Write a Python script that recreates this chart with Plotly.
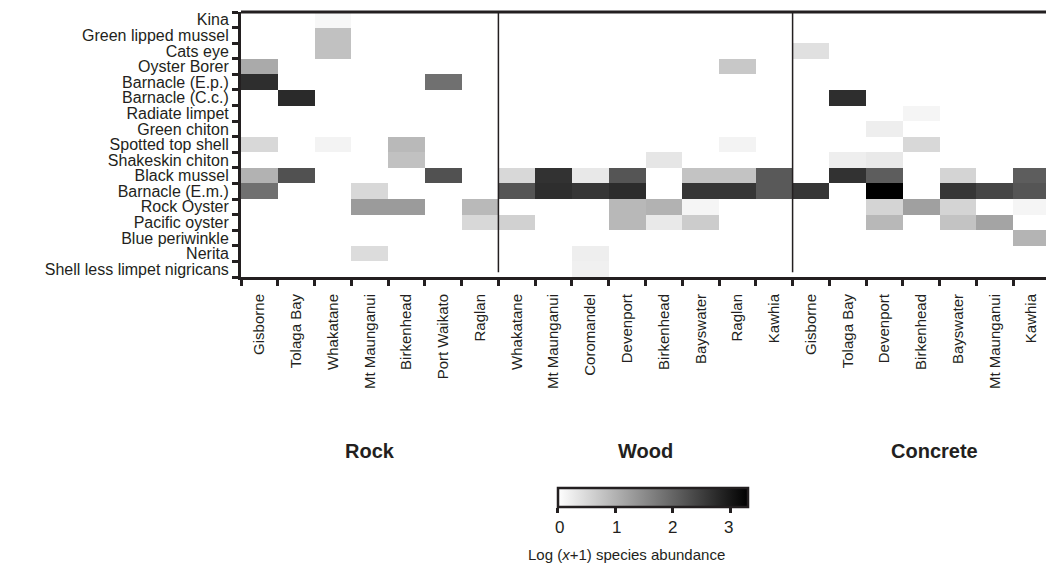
import plotly.graph_objects as go

species = ["Kina", "Green lipped mussel", "Cats eye", "Oyster Borer", "Barnacle (E.p.)",
           "Barnacle (C.c.)", "Radiate limpet", "Green chiton", "Spotted top shell",
           "Shakeskin chiton", "Black mussel", "Barnacle (E.m.)", "Rock Oyster",
           "Pacific oyster", "Blue periwinkle", "Nerita", "Shell less limpet nigricans"]

rock_sites = ["Gisborne", "Tolaga Bay", "Whakatane", "Mt Maunganui", "Birkenhead", "Port Waikato", "Raglan"]
wood_sites = ["Whakatane", "Mt Maunganui", "Coromandel", "Devenport", "Birkenhead", "Bayswater", "Raglan", "Kawhia"]
concrete_sites = ["Gisborne", "Tolaga Bay", "Devenport", "Birkenhead", "Bayswater", "Mt Maunganui", "Kawhia"]

groups = ["Rock", "Wood", "Concrete"]

# rows = species (top to bottom), columns = sites; Log(x+1) abundance
rock_values = [
    [0, 0, 0.1, 0, 0, 0, 0],
    [0, 0, 0.8, 0, 0, 0, 0],
    [0, 0, 0.8, 0, 0, 0, 0],
    [1.1, 0, 0, 0, 0, 0, 0],
    [2.7, 0, 0, 0, 0, 1.85, 0],
    [0, 2.75, 0, 0, 0, 0, 0],
    [0, 0, 0, 0, 0, 0, 0],
    [0, 0, 0, 0, 0, 0, 0],
    [0.5, 0, 0.15, 0, 0.9, 0, 0],
    [0, 0, 0, 0, 0.8, 0, 0],
    [1.0, 2.25, 0, 0, 0, 2.25, 0],
    [1.85, 0, 0, 0.5, 0, 0, 0],
    [0, 0, 0, 1.3, 1.3, 0, 0.9],
    [0, 0, 0, 0, 0, 0, 0.5],
    [0, 0, 0, 0, 0, 0, 0],
    [0, 0, 0, 0.45, 0, 0, 0],
    [0, 0, 0, 0, 0, 0, 0],
]

wood_values = [
    [0, 0, 0, 0, 0, 0, 0, 0],
    [0, 0, 0, 0, 0, 0, 0, 0],
    [0, 0, 0, 0, 0, 0, 0, 0],
    [0, 0, 0, 0, 0, 0, 0.71, 0],
    [0, 0, 0, 0, 0, 0, 0, 0],
    [0, 0, 0, 0, 0, 0, 0, 0],
    [0, 0, 0, 0, 0, 0, 0, 0],
    [0, 0, 0, 0, 0, 0, 0, 0],
    [0, 0, 0, 0, 0, 0, 0.15, 0],
    [0, 0, 0, 0, 0.33, 0, 0, 0],
    [0.5, 2.65, 0.3, 2.2, 0, 0.77, 0.77, 2.15],
    [2.2, 2.7, 2.6, 2.73, 0, 2.6, 2.6, 2.15],
    [0, 0, 0, 0.92, 1.0, 0.13, 0, 0],
    [0.6, 0, 0, 0.92, 0.28, 0.66, 0, 0],
    [0, 0, 0, 0, 0, 0, 0, 0],
    [0, 0, 0.22, 0, 0, 0, 0, 0],
    [0, 0, 0.2, 0, 0, 0, 0, 0],
]

concrete_values = [
    [0, 0, 0, 0, 0, 0, 0],
    [0, 0, 0, 0, 0, 0, 0],
    [0.4, 0, 0, 0, 0, 0, 0],
    [0, 0, 0, 0, 0, 0, 0],
    [0, 0, 0, 0, 0, 0, 0],
    [0, 2.7, 0, 0, 0, 0, 0],
    [0, 0, 0, 0.13, 0, 0, 0],
    [0, 0, 0.22, 0, 0, 0, 0],
    [0, 0, 0, 0.5, 0, 0, 0],
    [0, 0.22, 0.28, 0, 0, 0, 0],
    [0, 2.65, 2.1, 0, 0.55, 0, 2.1],
    [2.6, 0, 3.3, 0, 2.6, 2.4, 2.2],
    [0, 0, 0.55, 1.23, 0.55, 0, 0.13],
    [0, 0, 0.92, 0, 0.77, 1.18, 0],
    [0, 0, 0, 0, 0, 0, 0.97],
    [0, 0, 0, 0, 0, 0, 0],
    [0, 0, 0, 0, 0, 0, 0],
]

colorbar_ticks = [0, 1, 2, 3]
z_max = 3.3

sites = rock_sites + wood_sites + concrete_sites
z = [r + w + c for r, w, c in zip(rock_values, wood_values, concrete_values)]
nx, ny = len(sites), len(species)

FONT = "Liberation Sans, Arial, sans-serif"
INK = "#231f20"

# geometry (page body has an 8px default margin)
W, H = 1046, 565
ML, MR, MT, MB = 233, 4, 4, 296
plot_w = W - ML - MR
plot_h = H - MT - MB
cb_x, cb_len, cb_y = 0.509, 190, -0.796

fig = go.Figure(go.Heatmap(
    z=z, x=list(range(nx)), y=list(range(ny)),
    zmin=0, zmax=z_max,
    colorscale=[[0, "#ffffff"], [1, "#000000"]],
    colorbar=dict(
        orientation="h", x=cb_x, xanchor="center", y=cb_y, yanchor="top",
        len=cb_len, lenmode="pixels", thickness=19, xpad=0, ypad=0,
        outlinewidth=2.5, outlinecolor=INK,
        tickvals=colorbar_ticks, ticks="outside", ticklen=5, tickwidth=3, tickcolor=INK,
        showticklabels=False,
    ),
))

# colorbar tick labels placed a little lower than plotly's default
for v in colorbar_ticks:
    xp = cb_x + (v / z_max - 0.5) * (cb_len - 4) / plot_w
    fig.add_annotation(text=str(v), x=xp, xref="paper", y=-0.947, yref="paper",
                       xanchor="center", yanchor="middle", showarrow=False,
                       font=dict(family=FONT, size=17, color=INK))

n_rock, n_wood = len(rock_sites), len(wood_sites)
for xb in [n_rock - 0.5, n_rock + n_wood - 0.5]:
    fig.add_shape(type="line", xref="x", yref="y", x0=xb, x1=xb, y0=-0.5, y1=16.2,
                  line=dict(color=INK, width=1.5))
# top and right frame
fig.add_shape(type="line", xref="paper", yref="paper", x0=0, x1=1, y0=1, y1=1,
              line=dict(color=INK, width=3))
fig.add_shape(type="line", xref="paper", yref="paper", x0=1, x1=1, y0=0, y1=1,
              line=dict(color=INK, width=1.5))

group_x = [(n_rock - 1) / 2, n_rock + (n_wood - 1) / 2, n_rock + n_wood + 3.35]
for g, gx in zip(groups, group_x):
    fig.add_annotation(text="<b>%s</b>" % g, x=gx, xref="x", y=-0.657, yref="paper",
                       xanchor="center", yanchor="middle", showarrow=False,
                       font=dict(family=FONT, size=20, color=INK))

fig.add_annotation(text="Log (<i>x</i>+1) species abundance", x=0.477, xref="paper",
                   y=-1.049, yref="paper", xanchor="center", yanchor="middle",
                   showarrow=False, font=dict(family=FONT, size=15, color=INK))

fig.update_xaxes(
    range=[-0.5, nx - 0.5], tickmode="array", tickvals=list(range(nx)), ticktext=sites,
    tickangle=-90, ticks="", showgrid=False, zeroline=False, automargin=False,
    showline=True, linewidth=3, linecolor=INK,
    tickfont=dict(family=FONT, size=15, color=INK), ticklabelstandoff=8,
    minor=dict(tickmode="array", tickvals=[i - 0.5 for i in range(nx + 1)],
               ticks="outside", ticklen=6, tickwidth=3, tickcolor=INK, showgrid=False),
)
fig.update_yaxes(
    range=[ny - 0.5, -0.5], tickmode="array", tickvals=list(range(ny)), ticktext=species,
    ticks="", showgrid=False, zeroline=False, automargin=False,
    showline=True, linewidth=3, linecolor=INK,
    tickfont=dict(family=FONT, size=16, color=INK), ticklabelstandoff=6,
    minor=dict(tickmode="array", tickvals=[i - 0.5 for i in range(ny + 1)],
               ticks="outside", ticklen=6, tickwidth=3, tickcolor=INK, showgrid=False),
)

fig.update_layout(
    width=W, height=H,
    margin=dict(l=ML, r=MR, t=MT, b=MB, autoexpand=False),
    paper_bgcolor="white", plot_bgcolor="white",
    font=dict(family=FONT, color=INK),
)

fig.write_html("out.html")
